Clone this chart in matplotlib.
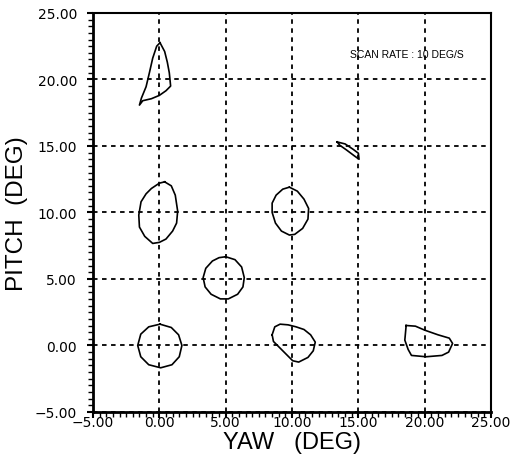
import numpy as np
import matplotlib.pyplot as plt
from matplotlib.ticker import MultipleLocator, FuncFormatter

# contour loops (yaw, pitch in deg)
loop_0_20_x = [0.05, 0.4, 0.6, 0.75, 0.85, 0.5, 0.0, -0.6, -1.25, -1.5, -1.35, -1.0, -0.75, -0.5, -0.2, 0.05]
loop_0_20_y = [22.76, 22.1, 21.3, 20.5, 19.5, 19.15, 18.8, 18.55, 18.4, 18.07, 18.6, 19.45, 20.5, 21.6, 22.5, 22.76]

loop_0_10_x = [0.4, 0.9, 1.2, 1.38, 1.3, 1.0, 0.5, 0.0, -0.5, -1.1, -1.5, -1.55, -1.38, -1.0, -0.6, 0.0, 0.4]
loop_0_10_y = [12.3, 12.0, 11.3, 10.1, 9.2, 8.6, 8.0, 7.75, 7.67, 8.2, 8.9, 9.8, 10.8, 11.4, 11.8, 12.2, 12.3]

loop_5_5_x = [5.0, 5.7, 6.2, 6.4, 6.3, 5.9, 5.2, 4.6, 3.9, 3.45, 3.3, 3.5, 4.0, 4.5, 5.0]
loop_5_5_y = [6.67, 6.45, 5.9, 5.1, 4.4, 3.85, 3.5, 3.5, 3.85, 4.4, 5.1, 5.8, 6.35, 6.6, 6.67]

loop_0_0_x = [0.05, 0.9, 1.45, 1.7, 1.5, 0.95, 0.1, -0.8, -1.4, -1.63, -1.4, -0.8, 0.05]
loop_0_0_y = [1.6, 1.35, 0.8, 0.0, -0.85, -1.45, -1.68, -1.45, -0.85, 0.0, 0.85, 1.4, 1.6]

loop_10_10_x = [9.8, 10.4, 10.9, 11.25, 11.2, 10.8, 10.2, 9.8, 9.2, 8.75, 8.5, 8.5, 8.8, 9.3, 9.8]
loop_10_10_y = [11.9, 11.6, 11.0, 10.3, 9.5, 8.8, 8.35, 8.3, 8.6, 9.2, 10.0, 10.7, 11.3, 11.75, 11.9]

loop_10_0_x = [8.5, 8.7, 9.1, 9.7, 10.3, 10.9, 11.4, 11.75, 11.6, 11.2, 10.5, 10.05, 9.6, 9.1, 8.6, 8.5]
loop_10_0_y = [0.8, 1.4, 1.6, 1.55, 1.4, 1.2, 0.8, 0.25, -0.4, -0.9, -1.25, -1.15, -0.7, -0.2, 0.3, 0.8]

loop_20_0_x = [18.6, 19.3, 20.0, 21.0, 21.85, 22.1, 21.8, 21.3, 20.1, 19.0, 18.75, 18.5, 18.6]
loop_20_0_y = [1.5, 1.45, 1.15, 0.8, 0.55, 0.15, -0.5, -0.75, -0.85, -0.75, -0.3, 0.4, 1.5]

sliver_x = [13.4, 14.0, 14.6, 15.0, 15.05, 14.7, 14.1, 13.6, 13.4]
sliver_y = [15.3, 15.15, 14.75, 14.45, 14.0, 14.25, 14.7, 15.05, 15.3]

loops = [
    (loop_0_20_x, loop_0_20_y),
    (loop_0_10_x, loop_0_10_y),
    (loop_5_5_x, loop_5_5_y),
    (loop_0_0_x, loop_0_0_y),
    (loop_10_10_x, loop_10_10_y),
    (loop_10_0_x, loop_10_0_y),
    (loop_20_0_x, loop_20_0_y),
    (sliver_x, sliver_y),
]

plt.rcParams['font.family'] = ['Liberation Sans', 'DejaVu Sans']

fig = plt.figure(figsize=(5.11, 4.64), dpi=100)
ax = fig.add_axes([0.182, 0.110, 0.779, 0.860])

for lx, ly in loops:
    ax.plot(lx, ly, color='black', lw=1.2)

ax.set_xlim(-5, 25)
ax.set_ylim(-5, 25)
ax.xaxis.set_major_locator(MultipleLocator(5))
ax.yaxis.set_major_locator(MultipleLocator(5))
ax.xaxis.set_minor_locator(MultipleLocator(0.5))
ax.yaxis.set_minor_locator(MultipleLocator(0.5))
fmt = FuncFormatter(lambda v, pos: f'{v:.2f}'.replace('-', '\u2212'))
ax.xaxis.set_major_formatter(fmt)
ax.yaxis.set_major_formatter(fmt)
ax.tick_params(which='major', direction='out', length=4, width=1.5)
ax.tick_params(which='minor', direction='out', length=3.5, width=1.0)
ax.tick_params(axis='x', which='major', pad=-1.5)
ax.tick_params(axis='y', which='major', pad=7.5)
for lbl in ax.get_xticklabels() + ax.get_yticklabels():
    lbl.set_family('DejaVu Sans')
    lbl.set_fontsize(10)

ax.grid(True, which='major', color='black', linestyle=(0, (2.5, 2.5)), linewidth=1.3)
for side in ['left', 'bottom']:
    ax.spines[side].set_linewidth(2.0)
for side in ['top', 'right']:
    ax.spines[side].set_linewidth(1.5)

ax.set_xlabel('YAW   (DEG)', fontsize=17, labelpad=1)
ax.set_ylabel('PITCH  (DEG)', fontsize=17.5, labelpad=5)

ax.text(14.4, 21.9, 'SCAN RATE : 10 DEG/S', fontsize=7.5, va='center', ha='left',
        family=['Liberation Sans Narrow', 'Liberation Sans', 'DejaVu Sans'])

fig.savefig('out.png', dpi=100)
plt.close(fig)
